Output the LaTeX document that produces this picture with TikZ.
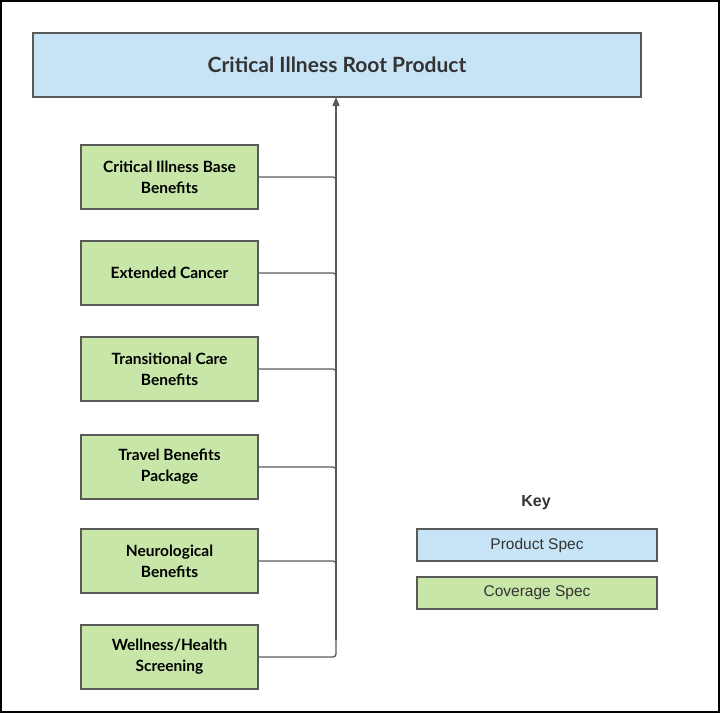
\documentclass[tikz,border=0pt]{standalone}
\usepackage{fontspec}
\setmainfont{Lato}
\newfontfamily\keyfont{Liberation Sans}
\usetikzlibrary{arrows.meta}
\definecolor{pblue}{HTML}{C7E4F6}
\definecolor{cgreen}{HTML}{C8E6A8}
\definecolor{edge}{HTML}{595959}
\definecolor{txt}{HTML}{333333}
\tikzset{
  cov/.style={draw=edge,line width=1.6pt,fill=cgreen,minimum width=177pt,minimum height=64pt,
    align=center,font=\fontsize{15.5}{21}\selectfont\bfseries,text=black,inner sep=0pt},
  keybox/.style={draw=edge,line width=1.6pt,minimum width=240pt,minimum height=32pt,
    font=\keyfont\fontsize{15.5}{18}\selectfont,text=txt,inner sep=0pt},
  conn/.style={draw=edge,line width=1.3pt,rounded corners=3pt}
}
\begin{document}
\begin{tikzpicture}[x=1pt,y=-1pt]
\useasboundingbox (0,0) rectangle (720,713);
\draw[line width=2pt] (1,1) rectangle (719,712);
\node[draw=edge,line width=1.6pt,fill=pblue,minimum width=608pt,minimum height=64pt,
  font=\fontsize{21}{24}\selectfont\bfseries,text=txt,inner sep=0pt] (root) at (337,65) {Critical Illness Root Product};
\node[cov] (b1) at (169.5,177) {Critical Illness Base\\Benefits};
\node[cov] (b2) at (169.5,273) {Extended Cancer};
\node[cov] (b3) at (169.5,369) {Transitional Care\\Benefits};
\node[cov] (b4) at (169.5,467) {Travel Benefits\\Package};
\node[cov] (b5) at (169.5,561) {Neurological\\Benefits};
\node[cov] (b6) at (169.5,657) {Wellness/Health\\Screening};
\coordinate (top) at (336,97);
\draw[conn,-{Triangle[length=9pt,width=7pt]},rounded corners=0pt] (336,640) -- (top);
\foreach \b in {b1,b2,b3,b4,b5,b6}{
  \draw[conn] (\b.east) -| (336,640);
}
\node[font=\keyfont\fontsize{16}{18}\selectfont\bfseries,text=txt] (key) at (536,503) {Key};
\node[keybox,fill=pblue] (k1) at (537,545) {Product Spec};
\node[keybox,fill=cgreen] (k2) at (537,593) {Coverage Spec};
\end{tikzpicture}
\end{document}
